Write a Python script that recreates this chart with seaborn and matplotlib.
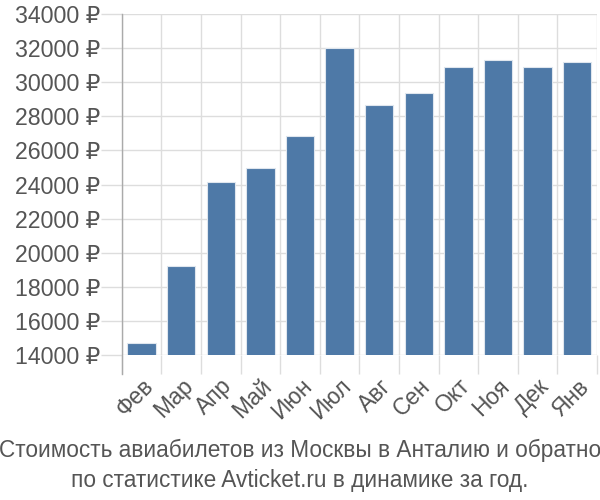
import matplotlib
matplotlib.use("Agg")
import matplotlib.pyplot as plt
import seaborn as sns
import pandas as pd
import numpy as np

months = ["Фев", "Мар", "Апр", "Май", "Июн", "Июл", "Авг", "Сен", "Окт", "Ноя", "Дек", "Янв"]
prices = [14720, 19210, 24150, 24940, 26845, 32000, 28690, 29395, 30905, 31300, 30865, 31160]
yticks = list(range(14000, 34001, 2000))
title_lines = ["Стоимость авиабилетов из Москвы в Анталию и обратно",
               "по статистике Avticket.ru в динамике за год."]

sns.set_theme(style="white")
plt.rcParams['font.family'] = ['Liberation Sans', 'DejaVu Sans']

df = pd.DataFrame({"month": months, "price": prices})

fig = plt.figure(figsize=(6, 5), dpi=100)
ax = fig.add_axes([0.203, 0.29, 0.792, 0.682])

sns.barplot(data=df, x="month", y="price", color="#4e79a7", saturation=1,
            width=0.72, edgecolor="#dfe6ee", linewidth=0.8, ax=ax, zorder=3)

ax.set_ylim(14000, 34000)
ax.set_xlim(-0.5, len(months) - 0.5)
ax.set_yticks(yticks)
ax.set_yticklabels([f"{v} ₽" for v in yticks])
ax.set_xticks(np.arange(len(months)))
ax.set_xticklabels(months, rotation=45, ha="right", rotation_mode="anchor")
ax.set_xticks(np.arange(-0.5, len(months)), minor=True)

ax.grid(True, axis="y", color="#dddddd", linewidth=1, zorder=0)
ax.grid(True, axis="x", which="minor", color="#dddddd", linewidth=1, zorder=0)
ax.grid(False, axis="x", which="major")

ax.tick_params(axis="y", length=15, color="#dddddd", width=1, labelsize=16.7,
               labelcolor="#555555", pad=0.5, left=True)
ax.tick_params(axis="x", which="major", length=0, labelsize=16.5, labelcolor="#555555", pad=14)
ax.tick_params(axis="x", which="minor", length=14, color="#dddddd", width=1, bottom=True)

for s in ["top", "right", "bottom"]:
    ax.spines[s].set_visible(False)
ax.spines["left"].set_color("#aaaaaa")
ax.spines["left"].set_linewidth(1)
ax.spines["left"].set_bounds(14000 - 20000 * 19 / 341, 34000)
ax.spines["left"].set_zorder(4)
ax.set_xlabel("")
ax.set_ylabel("")

fig.text(0.5, 1 - 456.5 / 500, title_lines[0], ha="center", va="baseline",
         fontsize=16.3, color="#555555")
fig.text(0.5, 1 - 486.5 / 500, title_lines[1], ha="center", va="baseline",
         fontsize=16.3, color="#555555")

fig.savefig("out.png", dpi=100)
